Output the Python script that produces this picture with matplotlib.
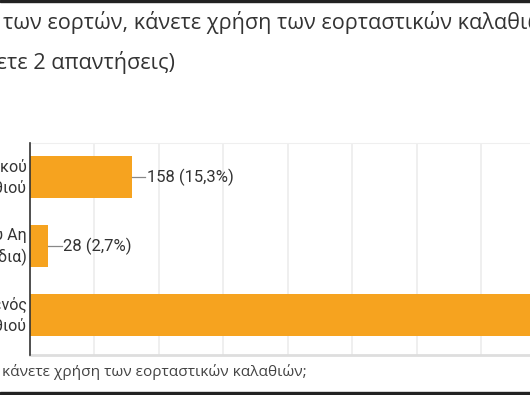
import matplotlib.pyplot as plt
from matplotlib.patches import Rectangle

plt.rcParams['font.family'] = ['Roboto', 'DejaVu Sans']

# data (Google Forms result, picture is cropped on left and right)
categories = ["Ναι, αγορά εορταστικού\nκαλαθιού",
              "Ναι, καλάθι του Αη\nΒασίλη (παιχνίδια)",
              "Όχι, δεν κάνω χρήση κανενός\nκαλαθιού"]
counts = [158, 28, 850]
percents = ["15,3%", "2,7%", "82,3%"]
grid_ticks = [0, 100, 200, 300, 400, 500, 600, 700]

title1_hidden = "Κατά τη διάρκεια "
title1 = "των εορτών, κάνετε χρήση των εορταστικών καλαθιών;"
title2_hidden = "(Μπορείτε να επιλέξε"
title2 = "τε 2 απαντήσεις)"
xtitle_hidden = "Κατά τη διάρκεια των εορτών, "
xtitle = "κάνετε χρήση των εορταστικών καλαθιών;"

W, H = 530, 395
fig = plt.figure(figsize=(W / 100, H / 100), dpi=100)
ax = fig.add_axes([30 / W, (H - 355) / H, 1 - 30 / W, (355 - 143) / H])

ypos = list(range(len(categories)))
ax.barh(ypos, counts, height=0.61, color="#F6A31F", zorder=3)
ax.set_xlim(0, 776)
ax.set_ylim(2.58, -0.5)

ax.set_xticks(grid_ticks)
ax.xaxis.grid(True, color="#ececec", linewidth=1.2, zorder=0)
ax.tick_params(axis="both", length=0, labelbottom=False, labelleft=False)
ax.set_yticks([])

ax.spines["right"].set_visible(False)
ax.spines["left"].set_color("#333333")
ax.spines["left"].set_linewidth(1.2)
ax.spines["left"].set_zorder(4)
ax.spines["top"].set_color("#efefef")
ax.spines["bottom"].set_color("#dedede")
ax.spines["bottom"].set_linewidth(2)

# category labels (right-aligned next to the axis)
for y, lab in zip(ypos, categories):
    ax.text(-5, y, lab, ha="right", va="center", fontsize=11.5,
            color="#333333", linespacing=1.45, clip_on=False)

# value labels with leader line
for y, c, p in zip(ypos, counts, percents):
    ax.plot([c, c + 21], [y, y], color="#888888", linewidth=0.9, zorder=4,
            clip_on=False)
    ax.text(c + 23, y, f"{c} ({p})", ha="left", va="center", fontsize=12,
            color="#333333", clip_on=False)

# titles (cropped at the left)
tfont = dict(family=["Open Sans", "DejaVu Sans"], color="#333333", fontsize=15.6)
x1 = 3 / W
fig.text(x1, 1 - 23 / H, title1_hidden, ha="right", va="center", **tfont)
fig.text(x1, 1 - 23 / H, title1, ha="left", va="center", **tfont)
x2 = 7 / W
fig.text(x2, 1 - 62 / H, title2_hidden, ha="right", va="center", **tfont)
fig.text(x2, 1 - 62 / H, title2, ha="left", va="center", **tfont)

bfont = dict(family=["Open Sans", "DejaVu Sans"], color="#444444", fontsize=11.1)
x3 = 2 / W
fig.text(x3, 1 - 372 / H, xtitle_hidden, ha="right", va="center", **bfont)
fig.text(x3, 1 - 372 / H, xtitle, ha="left", va="center", **bfont)

# dark screenshot borders
fig.patches.append(Rectangle((0, 1 - 2 / H), 1, 2 / H, transform=fig.transFigure,
                             color="#222222", zorder=10))
fig.patches.append(Rectangle((0, 0), 1, 3 / H, transform=fig.transFigure,
                             color="#222222", zorder=10))

fig.savefig("out.png", dpi=100)
